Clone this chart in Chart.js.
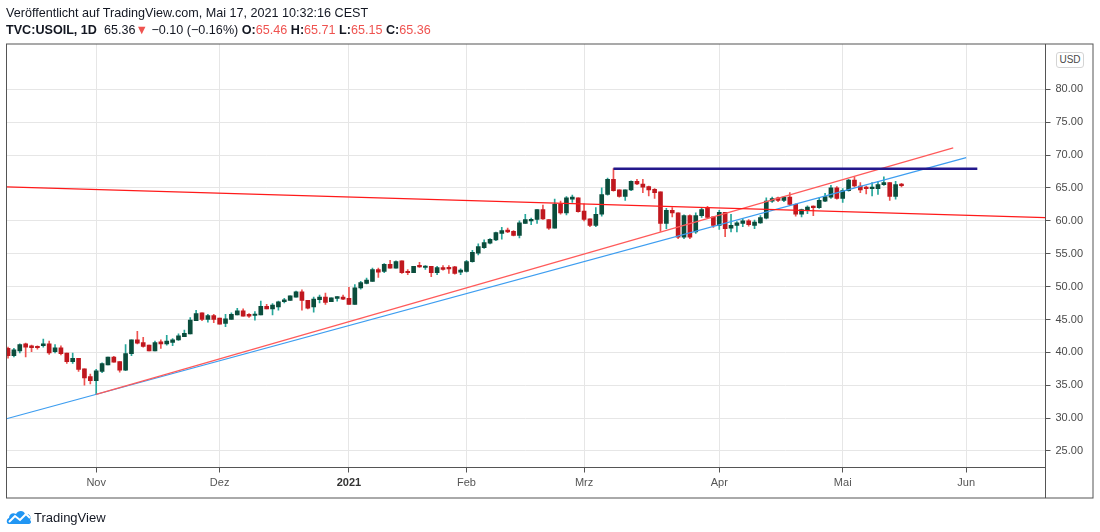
<!DOCTYPE html>
<html>
<head>
<meta charset="utf-8">
<script src="https://cdn.jsdelivr.net/npm/chart.js@4.4.1/dist/chart.umd.min.js"></script>
<style>
    body { margin: 0; background: #fff; }
    #wrap { position: relative; width: 1100px; height: 532px; font-family: 'Liberation Sans', Arial, sans-serif; color: #131722; }
    canvas { position: absolute; left: 0; top: 0; }
    .hdr { position: absolute; left: 6px; font-size: 12.6px; white-space: nowrap; line-height: 14px; }
    .red { color: #ef5350; }
    #usd { position: absolute; left: 1056px; top: 52px; width: 26px; height: 14px; border: 1px solid #d4d4d4; border-radius: 3px;
           font-size: 10px; line-height: 14px; text-align: center; color: #4a4a4a; background: #fff; }
    #logo { position: absolute; left: 6px; top: 509px; }
    #brand { position: absolute; left: 34px; top: 509px; font-size: 13px; line-height: 17px; color: #131722; }
</style>
</head>
<body>
<div id="wrap">
    <canvas id="chart" width="1100" height="532"></canvas>
    <div class="hdr" style="top:6px">Veröffentlicht auf TradingView.com, Mai 17, 2021 10:32:16 CEST</div>
    <div class="hdr" style="top:23px"><b>TVC:USOIL, 1D</b>&nbsp; 65.36<span class="red">▼</span> −0.10 (−0.16%) <b>O:</b><span class="red">65.46</span> <b>H:</b><span class="red">65.71</span> <b>L:</b><span class="red">65.15</span> <b>C:</b><span class="red">65.36</span></div>
    <div id="usd">USD</div>
    <svg id="logo" width="26" height="16" viewBox="0 0 26 16">
        <path d="M3 15 C0 15 0 10 3 9 C3 5 7 3 10 5 C12 1 18 1 19 5 C23 4 26 8 24 11 C26 13 25 15 22 15 Z" fill="#2196f3"/>
        <polyline points="3,13 9,7 14,11 20,5 24,9" fill="none" stroke="#fff" stroke-width="2"/>
    </svg>
    <div id="brand">TradingView</div>
</div>
<script>
// daily candles, oldest first (bar index = position in array)
const opens = [
    40.6, 39.5, 40.2, 41.3, 41.0, 40.9, 41.0, 41.3, 40.1, 40.7,
    39.9, 38.6, 39.1, 37.5, 36.3, 35.7, 37.1, 38.1, 39.3, 38.6,
    37.3, 39.8, 41.9, 41.5, 41.1, 40.2, 41.6, 41.3, 41.5, 41.9,
    42.4, 42.8, 44.8, 46.0, 45.0, 45.6, 45.2, 44.4, 45.0, 45.7,
    46.3, 45.8, 45.6, 45.7, 47.0, 46.6, 46.9, 47.7, 47.9, 48.4,
    49.2, 47.9, 46.9, 48.0, 48.4, 47.7, 48.2, 48.4, 48.2, 47.3,
    49.8, 50.5, 50.8, 52.6, 52.3, 53.4, 52.8, 53.9, 52.3, 52.1,
    53.2, 52.9, 53.1, 52.1, 52.9, 52.9, 53.0, 52.2, 52.3, 53.8,
    55.1, 55.9, 56.6, 57.1, 58.1, 58.6, 58.4, 57.8, 59.6, 60.0,
    60.2, 61.7, 60.2, 58.9, 62.5, 61.2, 63.3, 63.5, 61.5, 60.3,
    59.3, 61.0, 64.0, 66.3, 64.7, 63.7, 64.7, 66.0, 65.6, 65.2,
    64.8, 64.4, 59.6, 61.6, 61.2, 57.5, 60.8, 58.3, 60.8, 62.0,
    60.6, 59.3, 61.3, 58.9, 59.3, 59.6, 60.0, 59.3, 59.7, 60.4,
    63.0, 63.5, 63.1, 63.6, 62.5, 61.0, 61.6, 62.2, 62.0, 63.0,
    63.6, 65.0, 63.4, 64.6, 66.2, 65.3, 65.0, 64.9, 64.9, 65.5,
    65.8, 63.7, 65.46
];
const highs = [
    40.8, 40.6, 41.3, 41.4, 41.1, 41.0, 42.0, 41.7, 41.2, 41.0,
    39.9, 39.9, 39.1, 37.5, 36.7, 37.4, 38.4, 39.3, 39.4, 38.6,
    41.2, 41.9, 43.2, 42.3, 41.1, 41.7, 41.9, 42.6, 42.1, 42.8,
    43.4, 45.3, 46.4, 46.0, 45.8, 45.8, 45.2, 45.8, 46.0, 46.7,
    46.6, 45.9, 46.2, 47.8, 47.3, 47.4, 47.8, 48.2, 48.6, 49.3,
    49.5, 47.9, 48.4, 48.7, 49.0, 48.3, 48.5, 48.7, 49.9, 50.3,
    50.8, 51.3, 52.8, 52.8, 53.5, 54.0, 53.9, 53.9, 52.6, 53.1,
    53.7, 53.2, 53.1, 53.1, 53.2, 53.2, 53.1, 52.7, 54.0, 55.5,
    56.5, 57.1, 57.3, 58.3, 59.0, 58.9, 58.5, 60.0, 61.0, 60.4,
    61.7, 62.4, 60.2, 63.3, 63.0, 63.7, 63.9, 63.5, 62.6, 60.3,
    62.0, 65.0, 66.5, 67.93, 64.7, 64.7, 66.1, 66.3, 66.3, 65.3,
    64.9, 64.4, 61.9, 62.0, 61.2, 60.9, 60.9, 61.2, 62.0, 62.2,
    60.6, 61.6, 61.3, 61.0, 59.9, 60.3, 60.2, 60.1, 60.8, 63.5,
    63.6, 63.6, 63.7, 64.3, 62.6, 61.8, 62.3, 62.3, 63.5, 64.2,
    65.4, 65.2, 64.9, 66.3, 66.7, 65.8, 65.3, 65.8, 66.0, 66.7,
    65.8, 66.0, 65.71
];
const lows = [
    39.1, 39.3, 39.9, 39.3, 40.1, 40.5, 40.8, 39.7, 39.9, 39.6,
    38.3, 38.3, 37.1, 35.0, 35.2, 33.6, 36.9, 38.1, 38.5, 37.0,
    37.2, 39.5, 41.3, 40.8, 40.2, 40.2, 40.6, 41.1, 41.0, 41.8,
    42.4, 42.8, 44.8, 44.8, 44.6, 44.5, 44.3, 43.9, 45.0, 45.7,
    45.5, 45.3, 44.9, 45.7, 46.6, 45.7, 46.4, 47.5, 47.9, 48.4,
    46.4, 46.6, 46.1, 47.5, 47.3, 47.7, 47.8, 48.0, 47.3, 47.3,
    49.6, 50.4, 50.8, 51.4, 52.1, 52.8, 52.8, 52.0, 51.8, 52.1,
    52.9, 52.6, 51.5, 51.8, 52.5, 52.0, 51.9, 51.8, 52.2, 53.7,
    54.8, 55.8, 56.5, 57.0, 57.2, 58.2, 57.7, 57.4, 59.6, 59.4,
    59.6, 60.2, 58.7, 58.9, 61.0, 60.9, 62.8, 61.3, 60.0, 59.1,
    59.1, 60.7, 63.9, 64.5, 63.6, 63.1, 64.6, 65.5, 64.3, 63.8,
    63.4, 58.4, 58.8, 60.6, 57.3, 57.3, 57.3, 58.1, 60.5, 60.4,
    59.0, 58.7, 57.6, 58.3, 58.3, 59.1, 59.2, 58.8, 59.6, 60.3,
    62.8, 62.9, 62.9, 62.3, 60.7, 60.6, 61.1, 60.8, 61.9, 62.9,
    63.4, 63.3, 62.8, 64.5, 65.1, 64.3, 64.1, 63.8, 64.0, 65.4,
    63.1, 63.3, 65.15
];
const closes = [
    39.5, 40.4, 41.2, 40.8, 40.7, 40.7, 41.3, 39.9, 40.7, 39.8,
    38.6, 39.1, 37.4, 36.1, 35.7, 37.2, 38.3, 39.3, 38.5, 37.3,
    39.8, 41.9, 41.4, 40.9, 40.2, 41.5, 41.3, 41.7, 41.9, 42.5,
    42.9, 44.9, 45.9, 45.0, 45.6, 45.0, 44.3, 45.1, 45.8, 46.3,
    45.5, 45.5, 45.8, 47.0, 46.6, 47.2, 47.7, 48.0, 48.6, 49.2,
    47.9, 46.7, 48.1, 48.4, 47.6, 48.3, 48.5, 48.1, 47.3, 49.8,
    50.6, 51.0, 52.6, 52.2, 53.4, 52.8, 53.8, 52.1, 52.1, 53.1,
    53.0, 53.1, 52.1, 52.9, 52.6, 52.7, 52.0, 52.5, 53.8, 55.2,
    56.1, 56.7, 57.2, 58.2, 58.5, 58.3, 57.8, 59.7, 60.2, 60.2,
    61.7, 60.3, 58.9, 62.5, 61.2, 63.5, 63.6, 61.4, 60.2, 59.3,
    61.0, 64.0, 66.3, 64.6, 63.7, 64.7, 66.0, 65.6, 65.1, 64.7,
    64.3, 59.6, 61.6, 61.2, 57.5, 60.8, 57.5, 60.8, 61.7, 60.5,
    59.3, 61.3, 58.8, 59.3, 59.7, 60.0, 59.4, 59.8, 60.5, 63.0,
    63.4, 63.1, 63.6, 62.5, 61.0, 61.7, 62.1, 62.0, 63.1, 63.7,
    65.0, 63.4, 64.6, 66.2, 65.3, 64.7, 64.9, 65.0, 65.5, 65.8,
    63.7, 65.5, 65.36
];

// time axis: bar index where each month label sits
const monthLabels = ['Nov', 'Dez', '2021', 'Feb', 'Mrz', 'Apr', 'Mai', 'Jun'];
const monthBars = [15, 36, 58, 78, 98, 121, 142, 163];
const priceTicks = [25, 30, 35, 40, 45, 50, 55, 60, 65, 70, 75, 80];

// drawings: [bar index, price] end points
const blueTrend = [[-0.26, 29.9], [163.0, 69.6]];
const redTrend = [[15, 33.6], [160.8, 71.1]];
const redFalling = [[-0.26, 65.15], [176.5, 60.5]];
const resistance = [[103, 67.93], [164.9, 67.93]];

const UP_BODY = '#0b4d3c', UP_WICK = '#26a69a';
const DOWN_BODY = '#c0181f', DOWN_WICK = '#ef5350';
const AXIS = '#555', GRID = '#e6e6e6', FONT = "'Liberation Sans', Arial, sans-serif";

const isUp = opens.map((o, i) => closes[i] >= o);
const bodies = opens.map((o, i) => ({ x: i, y: [o, closes[i]] }));
const wicks = lows.map((l, i) => ({ x: i, y: [l, highs[i]] }));
const toPoints = arr => arr.map(p => ({ x: p[0], y: p[1] }));

function lineSet(points, color, width) {
    return {
        type: 'line',
        data: toPoints(points),
        borderColor: color,
        borderWidth: width,
        pointRadius: 0,
        order: 0
    };
}

// outer frame of the chart + corner box under the price axis
const framePlugin = {
    id: 'frame',
    afterDraw(chart) {
        const { ctx, chartArea } = chart;
        const xs = chart.scales.x, ys = chart.scales.y;
        ctx.save();
        ctx.strokeStyle = AXIS;
        ctx.lineWidth = 1;
        ctx.strokeRect(chartArea.left, chartArea.top, ys.right - chartArea.left, xs.bottom - chartArea.top);
        ctx.beginPath();
        ctx.moveTo(chartArea.right, chartArea.bottom);
        ctx.lineTo(chartArea.right, xs.bottom);
        ctx.stroke();
        ctx.restore();
    }
};

new Chart(document.getElementById('chart').getContext('2d'), {
    type: 'bar',
    data: {
        datasets: [
            lineSet(redFalling, '#ff1a1a', 1.2),
            lineSet(resistance, '#23188c', 2.5),
            lineSet(redTrend, '#ff5a5a', 1.2),
            lineSet(blueTrend, '#3d9df0', 1.2),
            {
                data: bodies,
                backgroundColor: isUp.map(u => u ? UP_BODY : DOWN_BODY),
                barThickness: 4,
                minBarLength: 1.5,
                grouped: false,
                order: 1
            },
            {
                data: wicks,
                backgroundColor: isUp.map(u => u ? UP_WICK : DOWN_WICK),
                barThickness: 1,
                grouped: false,
                order: 2
            }
        ]
    },
    options: {
        responsive: false,
        animation: false,
        layout: { padding: { left: 6.5, top: 44, right: 7, bottom: 34 } },
        plugins: { legend: { display: false }, tooltip: { enabled: false } },
        scales: {
            x: {
                type: 'linear',
                offset: false,
                min: -0.26,
                max: 176.5,
                afterBuildTicks: s => { s.ticks = monthBars.map(v => ({ value: v })); },
                afterFit: s => { s.height = 30.5; },
                grid: { offset: false, color: GRID, tickColor: AXIS, tickLength: 5 },
                border: { display: true, color: AXIS },
                ticks: {
                    autoSkip: false,
                    maxRotation: 0,
                    padding: 4,
                    color: c => (c.tick && c.tick.value === 58) ? '#333' : '#555',
                    font: c => ({ family: FONT, size: 11, weight: (c.tick && c.tick.value === 58) ? 'bold' : 'normal' }),
                    callback: v => monthLabels[monthBars.indexOf(v)]
                }
            },
            y: {
                position: 'right',
                min: 22.49,
                max: 86.89,
                afterBuildTicks: s => { s.ticks = priceTicks.map(v => ({ value: v })); },
                afterFit: s => { s.width = 47.5; },
                grid: { color: GRID, tickColor: AXIS, tickLength: 5 },
                border: { display: true, color: AXIS },
                ticks: {
                    padding: 5,
                    color: '#4a4a4a',
                    font: { family: FONT, size: 11 },
                    callback: v => v.toFixed(2)
                }
            }
        }
    },
    plugins: [framePlugin]
});
</script>
</body>
</html>
